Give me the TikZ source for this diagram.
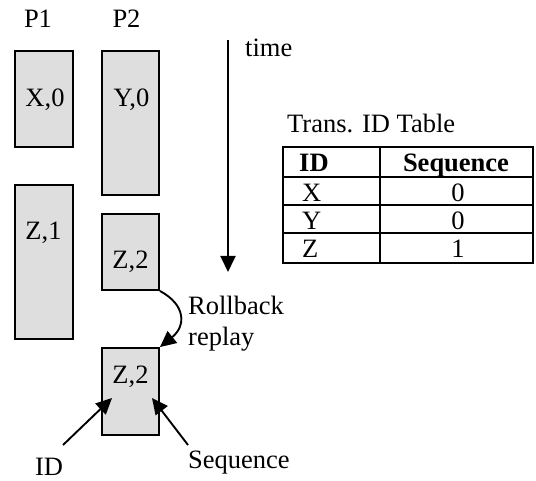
\documentclass[tikz,border=0pt]{standalone}
\usepackage{fontspec}
\setmainfont{Liberation Serif}
\usetikzlibrary{arrows.meta}
\begin{document}
\begin{tikzpicture}[x=1pt,y=-1pt,
  font=\fontsize{26.5}{29}\selectfont,
  txn/.style={draw=black, line width=1.9pt, fill=black!13, inner sep=0pt},
  lbl/.style={inner sep=0pt, anchor=base},
  lblw/.style={inner sep=0pt, anchor=base west},
  arr/.style={line width=1.9pt, -{Triangle[length=16pt,width=15pt]}},
  tline/.style={line width=1.8pt},
  touter/.style={line width=2.2pt}]
\useasboundingbox (0,0) rectangle (536,481);

% process headings
\node[lbl] (p1) at (38,28) {P1};
\node[lbl] (p2) at (126.5,28) {P2};

% transaction boxes
\node[txn, minimum width=58pt, minimum height=96pt] (bx) at (44,99) {};
\node[txn, minimum width=57pt, minimum height=144pt] (by) at (130.5,123) {};
\node[txn, minimum width=58pt, minimum height=154pt] (bz1) at (44,262) {};
\node[txn, minimum width=57pt, minimum height=76pt] (bz2) at (130.5,252) {};
\node[txn, minimum width=57pt, minimum height=87pt] (bz3) at (130.5,391.5) {};

\node[lbl] (tx) at (45,107) {X,0};
\node[lbl] (ty) at (131.5,107) {Y,0};
\node[lbl] (tz1) at (43.5,240) {Z,1};
\node[lbl] (tz2) at (130.5,269) {Z,2};
\node[lbl] (tz3) at (130.5,384) {Z,2};

% time axis
\coordinate (t0) at (228,40);
\coordinate (t1) at (228,272);
\draw[arr] (t0) -- (t1);
\node[lblw] (time) at (245,57) {time};

% rollback replay
\draw[arr] (bz2.south east) .. controls (186,305) and (186,326) .. (bz3.north east);
\node[lblw] (rb) at (188,315) {Rollback};
\node[lblw] (rp) at (188,345) {replay};

% field pointers
\coordinate (idtail) at (63,445);
\coordinate (idtip) at (112,398);
\coordinate (sqtail) at (188,445);
\coordinate (sqtip) at (152,398);
\draw[arr] (idtail) -- (idtip);
\draw[arr] (sqtail) -- (sqtip);
\node[lbl] (idl) at (49,475) {ID};
\node[lblw] (sql) at (188,468) {Sequence};

% transaction id table
\node[lblw] (ttitle) at (287,133) {Trans. ID Table};
\draw[touter] (283,147) rectangle (533,263);
\draw[tline] (283,177) -- (533,177);
\draw[tline] (283,205) -- (533,205);
\draw[tline] (283,233) -- (533,233);
\draw[tline] (380,147) -- (380,263);
\node[lblw] (hid) at (299,172) {\textbf{ID}};
\node[lbl] (hsq) at (456,172) {\textbf{Sequence}};
\node[lblw] (rx) at (302,202) {X};
\node[lblw] (ry) at (302,230) {Y};
\node[lblw] (rz) at (302,258) {Z};
\node[lbl] (vx) at (458,202) {0};
\node[lbl] (vy) at (458,230) {0};
\node[lbl] (vz) at (458,258) {1};
\end{tikzpicture}
\end{document}
